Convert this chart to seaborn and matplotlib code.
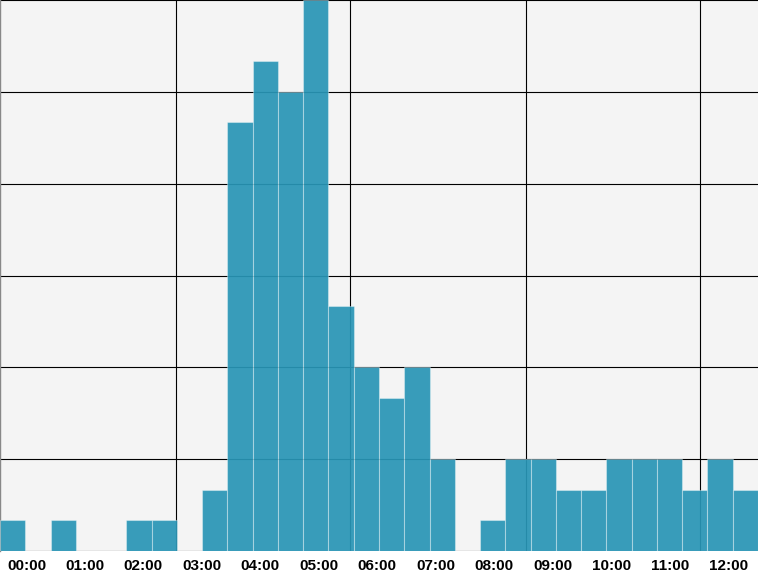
import numpy as np
import pandas as pd
import matplotlib
matplotlib.use("Agg")
import matplotlib.pyplot as plt
import seaborn as sns

# Data: counts per time bin (hours from midnight)
counts = [1, 0, 1, 0, 0, 1, 1, 0, 2, 14, 16, 15, 18, 8, 6, 5, 6, 3, 0, 1,
          3, 3, 2, 2, 3, 3, 3, 2, 3, 2]
bin_start = -0.453
bin_end = 12.51
tick_hours = list(range(0, 13))
tick_labels = [f"{h:02d}:00" for h in tick_hours]
vgrid_hours = [2.557, 5.534, 8.545, 11.52]
ygrid = [0, 3, 6, 9, 12, 15, 18]

edges = np.linspace(bin_start, bin_end, len(counts) + 1)
centers = (edges[:-1] + edges[1:]) / 2
df = pd.DataFrame({"hour": centers, "count": counts})

sns.set_style("white")
plt.rcParams["font.family"] = ["Liberation Sans", "DejaVu Sans"]

fig = plt.figure(figsize=(7.58, 5.80), dpi=100)
ax = fig.add_axes([0, 29 / 580, 1, 551 / 580])
ax.set_facecolor("#f4f4f4")

sns.histplot(data=df, x="hour", weights="count", bins=len(counts),
             binrange=(bin_start, bin_end), ax=ax,
             color="#2996b6", alpha=0.93, edgecolor=(1, 1, 1, 0.35),
             linewidth=0.8, zorder=3)

ax.set_xlim(bin_start, bin_end)
ax.set_ylim(0, 18)
ax.set_xticks(tick_hours)
ax.set_xticklabels(tick_labels, fontsize=11, fontweight="bold")
ax.set_xticks(vgrid_hours, minor=True)
ax.set_yticks(ygrid)
ax.set_yticklabels([])
ax.tick_params(axis="both", which="both", length=0)
ax.tick_params(axis="x", pad=6, colors="black")
ax.grid(False)
ax.grid(True, axis="x", which="minor", color="black", linewidth=0.8, zorder=1)
ax.grid(True, axis="y", which="major", color="black", linewidth=0.8, zorder=1)
ax.set_axisbelow(True)
ax.set_xlabel("")
ax.set_ylabel("")
for side in ["top", "right", "bottom"]:
    ax.spines[side].set_visible(False)
ax.spines["left"].set_color("#888888")
ax.spines["left"].set_linewidth(1)

fig.savefig("out.png", dpi=100, facecolor="white")
